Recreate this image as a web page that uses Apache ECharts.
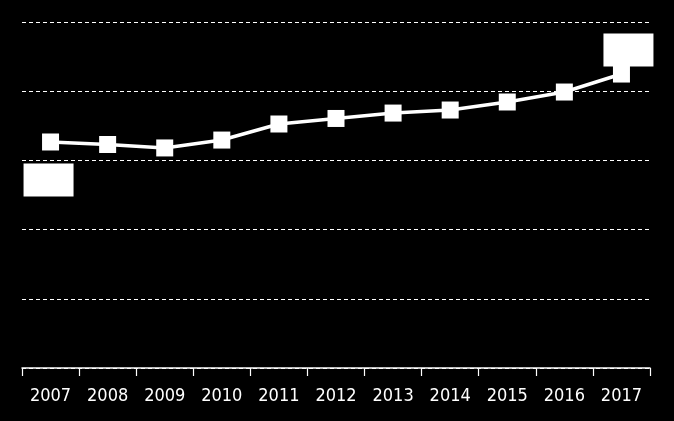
<!DOCTYPE html>
<html>
<head>
<meta charset="utf-8">
<script src="https://cdn.jsdelivr.net/npm/echarts@6/dist/echarts.min.js"></script>
<style>
html,body{margin:0;padding:0;background:#000;}
#chart{width:674px;height:421px;}
</style>
</head>
<body>
<div id="chart"></div>
<script>
const years = ['2007','2008','2009','2010','2011','2012','2013','2014','2015','2016','2017'];
const values = [16.33, 16.15, 15.90, 16.47, 17.63, 18.03, 18.42, 18.64, 19.22, 19.94, 21.24];
const yTicks = [0, 5, 10, 15, 20, 25];

const boxLabel = (offset) => ({
  show: true,
  position: 'inside',
  offset: offset,
  width: 50,
  height: 33,
  padding: 0,
  align: 'center',
  verticalAlign: 'middle',
  backgroundColor: '#ffffff',
  color: '#ffffff',
  fontSize: 14,
  formatter: p => p.value.toFixed(1)
});

const seriesData = values.map((v, i) => {
  if (i === 0) return { value: v, label: boxLabel([-2, 38]) };
  if (i === values.length - 1) return { value: v, label: boxLabel([7, -24]) };
  return v;
});

const chart = echarts.init(document.getElementById('chart'));
chart.setOption({
  backgroundColor: '#000000',
  animation: false,
  grid: { left: 22, right: 24, top: 22, bottom: 53, containLabel: false },
  xAxis: {
    type: 'category',
    data: years,
    boundaryGap: true,
    axisLine: { show: true, lineStyle: { color: '#ffffff', width: 1.5 } },
    axisTick: { show: true, length: 8, lineStyle: { color: '#ffffff', width: 1.2 } },
    axisLabel: { color: '#ffffff', fontSize: 18, fontFamily: "'Liberation Sans Narrow', 'DejaVu Sans Condensed', 'Liberation Sans'", margin: 19 }
  },
  yAxis: {
    type: 'value',
    min: yTicks[0],
    max: yTicks[yTicks.length - 1],
    interval: yTicks[1] - yTicks[0],
    axisLine: { show: false },
    axisTick: { show: false },
    axisLabel: { show: false },
    splitLine: { show: true, lineStyle: { color: '#ffffff', type: [4, 3], width: 1 } }
  },
  series: [{
    type: 'line',
    data: seriesData,
    symbol: 'rect',
    symbolSize: 17,
    lineStyle: { color: '#ffffff', width: 3.5 },
    itemStyle: { color: '#ffffff' },
    label: { show: false },
    z: 3
  }]
});
</script>
</body>
</html>
